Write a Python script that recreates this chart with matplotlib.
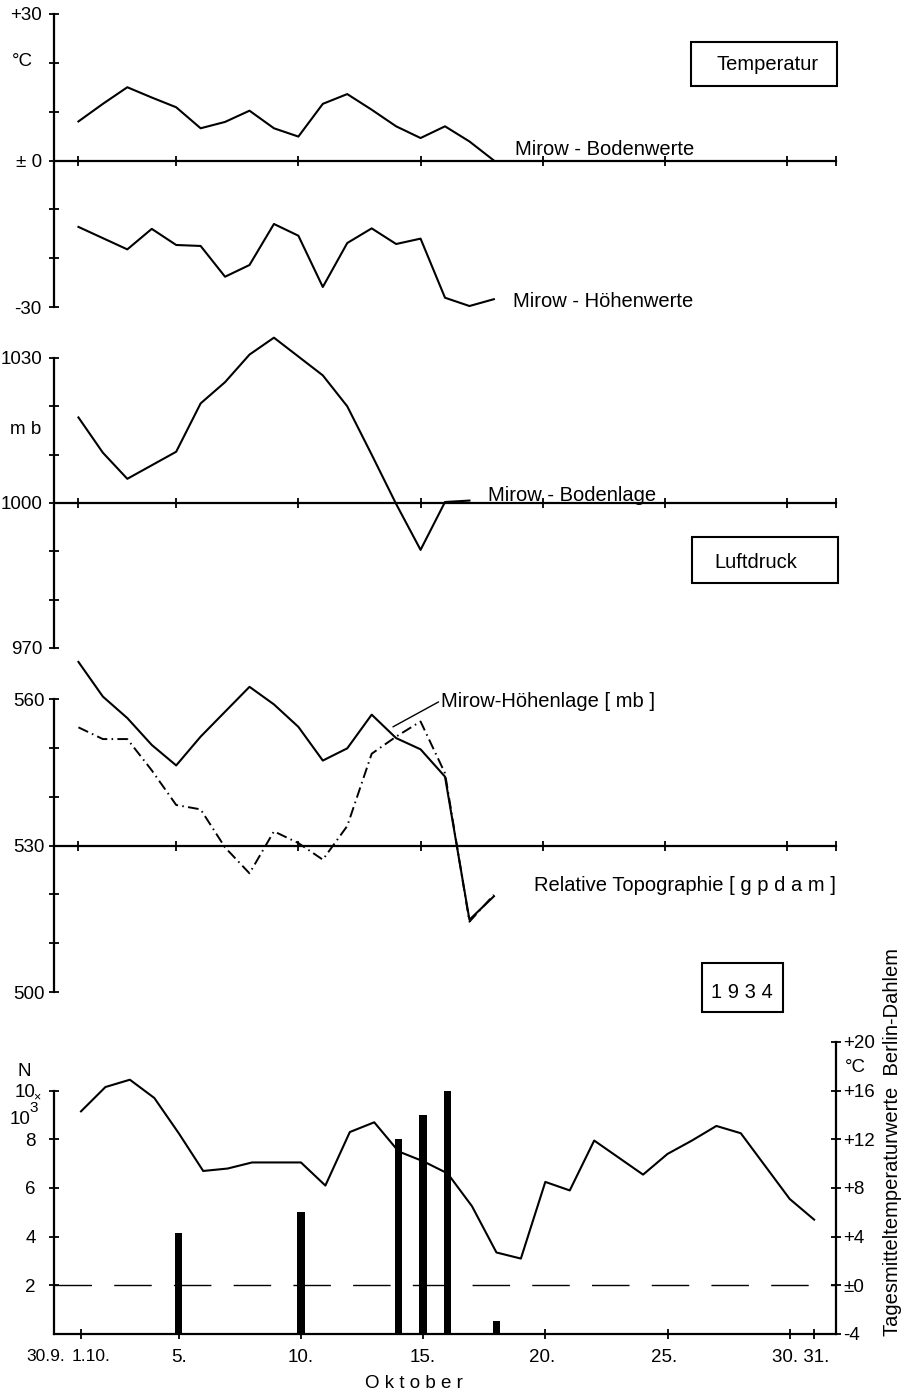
import numpy as np
import matplotlib
matplotlib.use("Agg")
import matplotlib.pyplot as plt
from matplotlib.patches import Rectangle

plt.rcParams['font.family'] = ['Liberation Sans', 'DejaVu Sans']

W, H, DPI = 912, 1393, 100

# %% Data (days of October 1934)
days = np.arange(1, 19)
days_p = np.arange(1, 18)
days_month = np.arange(1, 32)

# Temperatur Mirow [°C]
t_boden = [8.0, 11.6, 15.0, 12.9, 10.9, 6.6, 7.9, 10.2, 6.6, 4.9,
           11.6, 13.6, 10.4, 7.0, 4.6, 7.0, 3.9, 0.0]
t_hoehe = [-13.6, -15.9, -18.2, -14.0, -17.3, -17.5, -23.8, -21.4, -13.0, -15.4,
           -25.9, -16.9, -13.9, -17.1, -16.0, -28.1, -29.8, -28.4]

# Luftdruck Mirow Bodenlage [mb]
p_boden = [1017.7, 1010.4, 1005.0, 1007.8, 1010.6, 1020.6, 1025.0, 1030.7, 1034.2,
           1030.3, 1026.4, 1020.0, 1010.0, 999.8, 990.3, 1000.2, 1000.5]

# Hoehenlage [mb] and relative Topographie [gpdam]
h_mb = [567.6, 560.5, 556.1, 550.6, 546.4, 552.3, 557.4, 562.5, 558.9, 554.3,
        547.4, 549.9, 556.8, 552.0, 549.7, 544.1, 514.8, 519.6]
rel_topo = [554.2, 551.8, 551.8, 545.4, 538.3, 537.4, 529.6, 524.3, 532.9, 530.5,
            527.1, 534.0, 548.8, 552.3, 555.4, 544.8, 514.4, 519.9]

# Berlin-Dahlem: Tagesmittel [°C] and N x 10^3
t_dahlem = [14.3, 16.3, 16.9, 15.4, 12.5, 9.4, 9.6, 10.1, 10.1, 10.1,
            8.2, 12.6, 13.4, 11.0, 10.2, 9.2, 6.5, 2.7, 2.2, 8.5,
            7.8, 11.9, 10.5, 9.1, 10.8, 11.9, 13.1, 12.5, 9.8, 7.1, 5.4]
bar_days = [5, 10, 14, 15, 16, 18]
bar_n = [4.15, 5.0, 8.0, 9.0, 10.0, 0.55]

x_ticks_top = [1, 5, 10, 15, 20, 25, 30, 32]
x_ticks_bot = [1, 5, 10, 15, 20, 25, 30, 31]
x_labels_bot = ['30.9.', '1.10.', '5.', '10.', '15.', '20.', '25.', '30. 31.']
x_label_pos = [-0.45, 1.4, 5, 10, 15, 19.85, 24.85, 30.45]

LW = 1.5
SPW = 1.6
FS = 14.5     # words
FN = 13.5     # numbers

fig = plt.figure(figsize=(W / DPI, H / DPI), dpi=DPI)


def rect(x0, y0, x1, y1):
    return [x0 / W, 1 - y1 / H, (x1 - x0) / W, (y1 - y0) / H]


def ftext(x, y, s, **kw):
    kw.setdefault('fontsize', FS)
    return fig.text(x / W, 1 - y / H, s, **kw)


def fbox(x0, y0, x1, y1):
    fig.patches.append(Rectangle((x0 / W, 1 - y1 / H), (x1 - x0) / W, (y1 - y0) / H,
                                 transform=fig.transFigure, fill=False,
                                 ec='k', lw=1.5))


def style_panel(ax, lo, hi, zero, yticks, ylabels, pad):
    ax.patch.set_visible(False)
    for s in ('top', 'right'):
        ax.spines[s].set_visible(False)
    ax.spines['left'].set_bounds(lo, hi)
    ax.spines['bottom'].set_position(('data', zero))
    for s in ('left', 'bottom'):
        ax.spines[s].set_linewidth(SPW)
    ax.set_xlim(0, 32)
    ax.set_xticks(x_ticks_top)
    ax.set_xticklabels([])
    ax.set_yticks(yticks)
    ax.set_yticklabels(ylabels)
    ax.tick_params(direction='inout', length=7.5, width=1.3, labelsize=FN)
    ax.tick_params(axis='y', pad=pad)


# %% Temperatur
ax1 = fig.add_axes(rect(54, 14, 836, 307))
ax1.set_ylim(-30, 30)
style_panel(ax1, -30, 30, 0, np.arange(-30, 31, 10),
            ['-30', '', '', '± 0', '', '', '+30'], 5)
ax1.plot(days, t_boden, 'k-', lw=LW)
ax1.plot(days, t_hoehe, 'k-', lw=LW)

# %% Luftdruck Bodenlage
ax2 = fig.add_axes(rect(54, 333.8, 836, 648))
ax2.set_ylim(970, 1035)
style_panel(ax2, 970, 1030, 1000, np.arange(970, 1031, 10),
            ['970', '', '', '1000', '', '', '1030'], 4.3)
ax2.plot(days_p, p_boden, 'k-', lw=LW, clip_on=False)

# %% Hoehenlage / relative Topographie
ax3 = fig.add_axes(rect(54, 650.2, 836, 992))
ax3.set_ylim(500, 570)
style_panel(ax3, 500, 560, 530, np.arange(500, 561, 10),
            ['500', '', '', '530', '', '', '560'], 3)
ax3.plot(days, h_mb, 'k-', lw=LW, clip_on=False)
ax3.plot(days, rel_topo, 'k-', lw=1.4, dashes=(5.5, 2.2, 0.8, 2.2), clip_on=False)
ax3.annotate('Mirow-Höhenlage [ mb ]', xy=(13.87, 554.3), xytext=(15.85, 558.4),
             fontsize=FS, ha='left', va='baseline',
             arrowprops=dict(arrowstyle='-', lw=1.0, color='k', shrinkA=0, shrinkB=0,
                             relpos=(0, 0.55)))

# %% Berlin-Dahlem
ax4 = fig.add_axes(rect(54, 1042, 836, 1334))
ax4.patch.set_visible(False)
ax4.set_xlim(-0.105, 31.895)
ax4.set_ylim(0, 12)
for s in ('top', 'right'):
    ax4.spines[s].set_visible(False)
ax4.spines['left'].set_bounds(0, 10)
for s in ('left', 'bottom'):
    ax4.spines[s].set_linewidth(SPW)
ax4.set_yticks([2, 4, 6, 8, 10])
ax4.set_yticklabels(['2', '4', '6', '8', '10'])
ax4.set_xticks(x_ticks_bot)
ax4.set_xticklabels([])
ax4.tick_params(direction='inout', length=7.5, width=1.3, labelsize=FN)
ax4.tick_params(axis='y', pad=9.4)
ax4.bar(bar_days, bar_n, width=0.3, color='k', zorder=3)
for lab, xp in zip(x_labels_bot, x_label_pos):
    ax4.text(xp, -0.6, lab, ha='center', va='top',
             fontsize=FN - 1 if xp < 2 else FN)

ax4r = ax4.twinx()
ax4r.set_ylim(-4, 20)
for s in ('top', 'left', 'bottom'):
    ax4r.spines[s].set_visible(False)
ax4r.spines['right'].set_bounds(-4, 20)
ax4r.spines['right'].set_linewidth(SPW)
ax4r.set_yticks([-4, 0, 4, 8, 12, 16, 20])
ax4r.set_yticklabels(['-4', '±0', '+4', '+8', '+12', '+16', '+20'])
ax4r.tick_params(direction='inout', length=7.5, width=1.3, labelsize=FN, pad=1.4)
ax4r.plot(days_month, t_dahlem, 'k-', lw=LW)
ax4r.axhline(0, color='k', lw=1.0, dashes=(27, 16))

# %% Labels
ftext(22, 62, '°C', ha='center', va='center', fontsize=FN)
ftext(26, 430, 'm b', ha='center', va='center', fontsize=FN)
ftext(515, 155, 'Mirow - Bodenwerte', va='baseline')
ftext(513, 307, 'Mirow - Höhenwerte', va='baseline')
ftext(488, 501, 'Mirow - Bodenlage', va='baseline')
ftext(534, 891, 'Relative Topographie [ g p d a m ]', va='baseline')

fbox(691, 42, 837, 86)
ftext(717, 70, 'Temperatur', va='baseline')
fbox(692, 537, 838, 583)
ftext(714, 568, 'Luftdruck', va='baseline')
fbox(702, 963, 783, 1012)
ftext(742, 998, '1 9 3 4', ha='center', va='baseline')

ftext(24, 1072, 'N', ha='center', va='center', fontsize=FN)
ftext(37, 1097, '×', ha='center', va='center', fontsize=9)
ftext(20, 1120, '10', ha='center', va='center', fontsize=FN)
ftext(34, 1108, '3', ha='center', va='center', fontsize=11)
ftext(855, 1068, '°C', ha='center', va='center', fontsize=FN)
ftext(414, 1388, 'O k t o b e r', ha='center', va='baseline', fontsize=FN)
ftext(893, 1142, 'Tagesmitteltemperaturwerte  Berlin-Dahlem', rotation=90,
      ha='center', va='center', fontsize=14.5)

fig.savefig('out.png', dpi=DPI)
